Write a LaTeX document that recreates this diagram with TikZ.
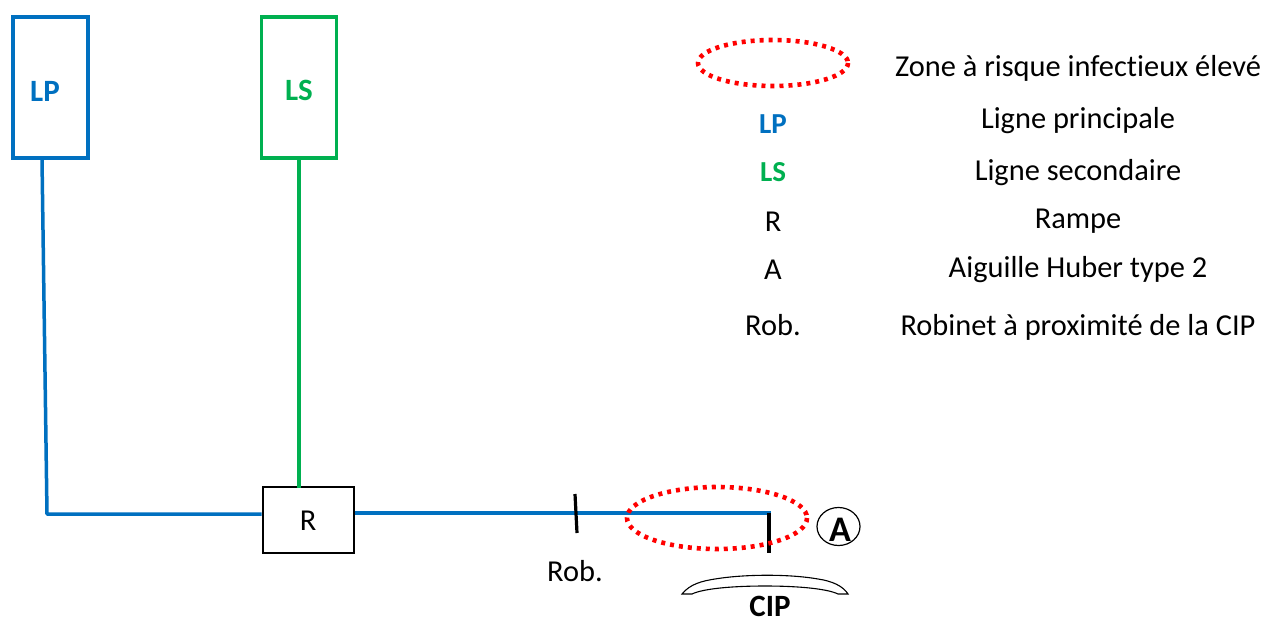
\documentclass[tikz,border=0pt]{standalone}
\usepackage{fontspec}
\setmainfont{Carlito}[Ligatures=NoCommon]
\usetikzlibrary{shapes.geometric}
\definecolor{lpblue}{RGB}{0,112,192}
\definecolor{lsgreen}{RGB}{0,176,80}
\definecolor{zonered}{RGB}{255,0,0}
\tikzset{x=1pt,y=-1pt,
 lpbox/.style={draw=lpblue,line width=3.8pt,minimum width=75pt,minimum height=141pt,inner sep=0pt,text=lpblue},
 lsbox/.style={draw=lsgreen,line width=3.8pt,minimum width=75pt,minimum height=141pt,inner sep=0pt,text=lsgreen},
 boxlabel/.style={inner sep=0pt,font=\fontsize{31}{34}\selectfont\bfseries},
 lpline/.style={draw=lpblue,line width=3.5pt},
 lsline/.style={draw=lsgreen,line width=3.5pt},
 rbox/.style={draw=black,line width=2pt,fill=white,minimum width=91pt,minimum height=66pt,inner sep=0pt},
 zone/.style={draw=zonered,line width=4.6pt,dash pattern=on 4pt off 5pt},
 robtick/.style={draw=black,line width=3.2pt},
 txt/.style={font=\fontsize{30.4}{33}\selectfont,inner sep=0pt,anchor=center},
 txtb/.style={font=\fontsize{29}{31}\selectfont\bfseries,inner sep=0pt,anchor=center}}
\begin{document}
\begin{tikzpicture}
\useasboundingbox (0,0) rectangle (1265,621);
\node[lpbox] (lp) at (50.5,87.5) {};
\node[boxlabel,text=lpblue] (lpt) at (45,91) {LP};
\node[lsbox] (ls) at (299,87.5) {};
\node[boxlabel,text=lsgreen] (lst) at (299,90.5) {LS};
\node[rbox] (r) at (308,520) {};
\node[txt] (rt) at (308,521) {R};
\coordinate (lptop) at (42,159);
\coordinate (corner) at (47,514);
\coordinate (lstop) at (299,159);
\coordinate (lsbot) at (299,488);
\coordinate (tip) at (771,513);
\coordinate (roba) at (575,494);
\coordinate (robb) at (577,533);
\coordinate (aiga) at (769,513);
\coordinate (aigb) at (769,553);
\draw[lpline,line join=round] (lptop) -- (corner) -- (r.west |- corner);
\draw[lsline] (lstop) -- (lsbot);
\draw[lpline] (r.east |- tip) -- (tip);
\draw[robtick] (roba) -- (robb);
\draw[robtick,line width=4.4pt] (aiga) -- (aigb);
\draw[zone] (717,518) ellipse [x radius=90,y radius=31];
\draw[zone] (773,63) ellipse [x radius=75,y radius=23];
\node[draw=black,line width=1.2pt,ellipse,minimum width=43pt,minimum height=38pt,inner sep=0pt] (a) at (838.5,526.5) {};
\node[boxlabel,font=\fontsize{36}{38}\selectfont\bfseries] (at) at (840,530) {A};
\node[txt] (rob) at (575,571) {Rob.};
\node[boxlabel] (cip) at (770,606) {CIP};
\draw[black,line width=1.1pt,fill=white] (682,594) .. controls (690,584) and (702,581) .. (715,579) .. controls (745,574) and (790,574) .. (818,579) .. controls (832,581) and (843,586) .. (848,594) -- (838,594) .. controls (828,589) and (800,586) .. (765,586) .. controls (730,586) and (702,589) .. (692,594) -- cycle;
\node[txt] (l1) at (1078,68) {Zone à risque infectieux élevé};
\node[txt] (l2) at (1078,121) {Ligne principale};
\node[txt] (l3) at (1078,173) {Ligne secondaire};
\node[txt] (l4) at (1078,221) {Rampe};
\node[txt] (l5) at (1078,270) {Aiguille Huber type 2};
\node[txt] (l6) at (1078,327) {Robinet à proximité de la CIP};
\node[txtb,text=lpblue] (k2) at (773,124) {LP};
\node[txtb,text=lsgreen] (k3) at (773,172) {LS};
\node[txt] (k4) at (773,222) {R};
\node[txt] (k5) at (773,270) {A};
\node[txt] (k6) at (773,325) {Rob.};
\end{tikzpicture}
\end{document}
